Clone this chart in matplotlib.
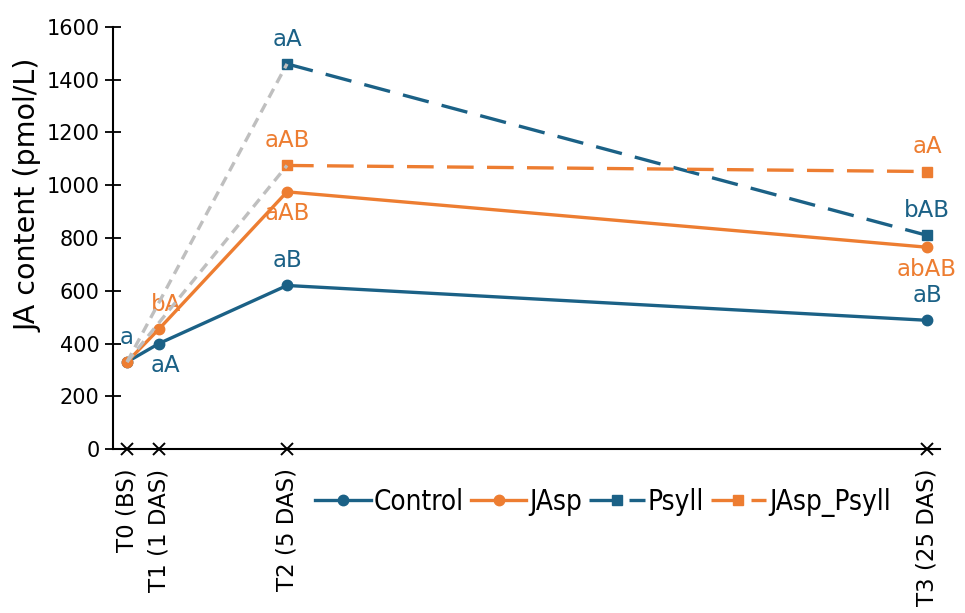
import matplotlib
matplotlib.use("Agg")
import matplotlib.pyplot as plt
import numpy as np

# ---- data ----
days = [0, 1, 5, 25]
tick_labels = ["T0 (BS)", "T1 (1 DAS)", "T2 (5 DAS)", "T3 (25 DAS)"]

control = [330, 400, 620, 488]
jasp = [330, 455, 975, 765]
psyll = [np.nan, np.nan, 1460, 810]
jasp_psyll = [np.nan, np.nan, 1075, 1052]
baseline = 330  # shared T0 value the psyllid series start from

control_lbl = ["a", "aA", "aB", "aB"]
control_pos = ["above", "below", "above", "above"]
jasp_lbl = [None, "bA", "aAB", "abAB"]
jasp_pos = [None, "above", "below", "below"]
psyll_lbl = [None, None, "aA", "bAB"]
psyll_pos = [None, None, "above", "above"]
jp_lbl = [None, None, "aAB", "aA"]
jp_pos = [None, None, "above", "above"]

BLUE = "#1b6186"
ORANGE = "#ed7d31"
GRAY = "#bfbfbf"

fig = plt.figure(figsize=(9.65, 6.13), dpi=100)
ax = fig.add_axes([0.117, 0.2675, 0.857, 0.6885])

lw = 2.4
ax.plot(days, control, color=BLUE, lw=lw, marker="o", ms=7.5, label="Control", zorder=3)
ax.plot(days, jasp, color=ORANGE, lw=lw, marker="o", ms=7.5, label="JAsp", zorder=3)
ax.plot(days, psyll, color=BLUE, lw=lw, marker="s", ms=7.5, ls=(0, (8, 4)), label="Psyll", zorder=3)
ax.plot(days, jasp_psyll, color=ORANGE, lw=lw, marker="s", ms=7.5, ls=(0, (8, 4)), label="JAsp_Psyll", zorder=3)

# gray dashed connectors from baseline to T2 for psyllid series
for s in (psyll, jasp_psyll):
    ax.plot([days[0], days[2]], [baseline, s[2]], color=GRAY, lw=lw, ls=(0, (3, 2)), zorder=4)

def annotate(vals, labels, pos, color):
    for d, v, t, p in zip(days, vals, labels, pos):
        if t is None:
            continue
        if p == "above":
            dy, va = 13, "baseline"
        else:
            dy, va = -7.5, "top"
        dx = 5 if d == 1 else 0
        ax.annotate(t, (d, v), xytext=(dx, dy), textcoords="offset points",
                    ha="center", va=va, color=color, fontsize=16.5)

annotate(control, control_lbl, control_pos, BLUE)
annotate(jasp, jasp_lbl, jasp_pos, ORANGE)
annotate(psyll, psyll_lbl, psyll_pos, BLUE)
annotate(jasp_psyll, jp_lbl, jp_pos, ORANGE)

# x tick crosses on the axis
ax.plot(days, [0] * len(days), ls="none", marker="x", color="black", ms=8, mew=1.4,
        clip_on=False, zorder=5)

ax.set_xlim(-0.44, 25.4)
ax.set_ylim(0, 1600)
ax.set_xticks(days)
ax.set_xticklabels(tick_labels, rotation=90, fontsize=16.5)
ax.tick_params(axis="x", length=0, pad=14)
ax.set_yticks(np.arange(0, 1601, 200))
ax.tick_params(axis="y", direction="inout", length=12, width=1.3, labelsize=15)
ax.set_ylabel("JA content (pmol/L)", fontsize=20.5)
ax.yaxis.set_label_coords(-0.085, 0.60)

for side in ("top", "right"):
    ax.spines[side].set_visible(False)
for side in ("left", "bottom"):
    ax.spines[side].set_linewidth(1.5)

leg = fig.legend(loc="center", bbox_to_anchor=(0.625, 0.181), ncol=4, frameon=False,
                 prop={"family": "DejaVu Sans", "stretch": "condensed", "size": 20},
                 handlelength=2.0, handletextpad=0.1, columnspacing=0.25)

fig.savefig("out.png", dpi=100)
